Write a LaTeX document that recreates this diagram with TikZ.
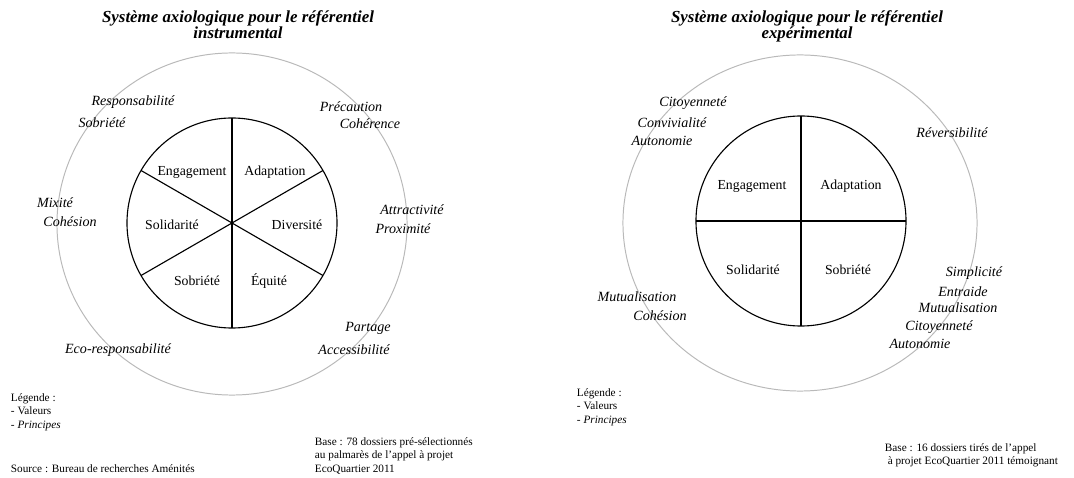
\documentclass[tikz,border=0pt]{standalone}
\usepackage{fontspec}
\setmainfont{Liberation Serif}
\usepackage{tikz}
\tikzset{
  valeur/.style={font=\fontsize{9.8}{11}\selectfont},
  principe/.style={font=\fontsize{10}{12}\selectfont\itshape},
  titre/.style={font=\fontsize{12}{11.5}\selectfont\bfseries\itshape, align=center},
  petit/.style={font=\fontsize{8}{9.5}\selectfont, align=left, anchor=west},
}
\begin{document}
\begin{tikzpicture}[x=0.025cm, y=-0.025cm]
\useasboundingbox (0,0) rectangle (1074,478);
% referentiel instrumental
\node[titre] (titreA) at (238,25) {Système axiologique pour le référentiel\\instrumental};
\draw[gray!55, line width=0.7pt] (232,224) ellipse [x radius=4.375cm, y radius=4.275cm];
\begin{scope}[shift={(232,223)}]
\draw[thick] (0,0) circle [radius=2.625cm];
\foreach \a in {30,90,150}
     		\draw[thick] (\a:2.625cm) -- (\a+180:2.625cm);
\end{scope}
\node[valeur] (engA) at (192,172) {Engagement};
\node[valeur] (adaA) at (275,172) {Adaptation};
\node[valeur] (solA) at (172,225) {Solidarité};
\node[valeur] (divA) at (297,225) {Diversité};
\node[valeur] (sobA) at (197,281) {Sobriété};
\node[valeur] (equA) at (269,281) {Équité};
\node[principe] (resA) at (133,102) {Responsabilité};
\node[principe] (sbrA) at (102,123) {Sobriété};
\node[principe] (preA) at (351,107) {Précaution};
\node[principe] (cohA) at (370,124) {Cohérence};
\node[principe] (mixA) at (55,203) {Mixité};
\node[principe] (chsA) at (70,222) {Cohésion};
\node[principe] (attA) at (412,210) {Attractivité};
\node[principe] (proA) at (403,229) {Proximité};
\node[principe] (parA) at (368,328) {Partage};
\node[principe] (accA) at (354,350) {Accessibilité};
\node[principe] (ecoA) at (118,350) {Eco-responsabilité};
\node[petit] (legA) at (6,412) {Légende :\\- Valeurs\\- \textit{Principes}};
\node[petit] (baseA) at (310,456) {Base : 78 dossiers pré-sélectionnés\\au palmarès de l'appel à projet\\EcoQuartier 2011};
\node[petit] (srcA) at (6,469) {Source : Bureau de recherches Aménités};
% referentiel experimental
\node[titre] (titreB) at (807,26) {Système axiologique pour le référentiel\\expérimental};
\draw[gray!55, line width=0.7pt] (800,223) ellipse [x radius=4.425cm, y radius=4.2cm];
\begin{scope}[shift={(801,221)}]
\draw[thick] (0,0) circle [radius=2.625cm];
\foreach \a in {0,90}
     		\draw[thick] (\a:2.625cm) -- (\a+180:2.625cm);
\end{scope}
\node[valeur] (engB) at (752,186) {Engagement};
\node[valeur] (adaB) at (851,186) {Adaptation};
\node[valeur] (solB) at (753,270) {Solidarité};
\node[valeur] (sobB) at (848,270) {Sobriété};
\node[principe] (citB) at (693,103) {Citoyenneté};
\node[principe] (conB) at (672,123) {Convivialité};
\node[principe] (autB) at (662,141) {Autonomie};
\node[principe] (revB) at (952,133) {Réversibilité};
\node[principe] (simB) at (974,273) {Simplicité};
\node[principe] (entB) at (963,292) {Entraide};
\node[principe] (mutB) at (958,308) {Mutualisation};
\node[principe] (ci2B) at (939,327) {Citoyenneté};
\node[principe] (au2B) at (920,344) {Autonomie};
\node[principe] (mu2B) at (637,297) {Mutualisation};
\node[principe] (chsB) at (660,316) {Cohésion};
\node[petit] (legB) at (572,407) {Légende :\\- Valeurs\\- \textit{Principes}};
\node[petit] (baseB) at (880,455) {Base : 16 dossiers tirés de l'appel\\\ à projet EcoQuartier 2011 témoignant};
\end{tikzpicture}
\end{document}
